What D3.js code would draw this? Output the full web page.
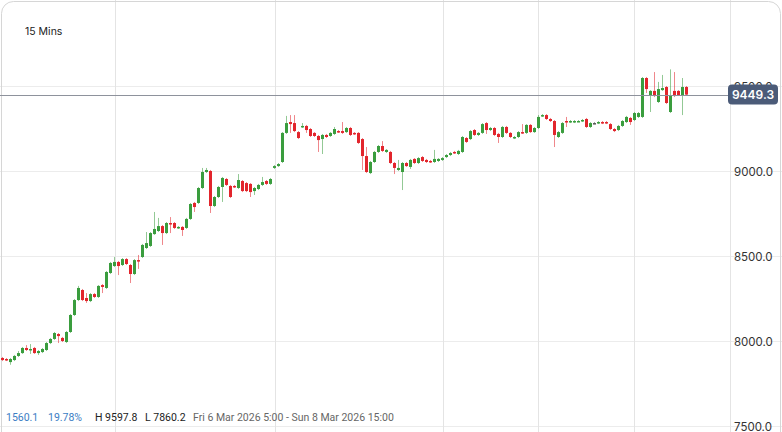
<!DOCTYPE html>
<html>
<head>
<meta charset="utf-8">
<script src="https://cdn.jsdelivr.net/npm/d3@7"></script>
<style>
  html, body { margin: 0; padding: 0; background: #fff; }
  body { width: 782px; height: 432px; overflow: hidden; font-family: Inter, "Noto Sans", sans-serif; }
</style>
</head>
<body>
<div id="chart"></div>
<script>
// 15 min candles, Fri 6 Mar 2026 5:00 onwards
const opens = [
  7900, 7894, 7876, 7888, 7912, 7929, 7959, 7947, 7959, 7929, 7935, 7947, 7988, 8012, 8041, 8018,
  7994, 8053, 8153, 8241, 8300, 8253, 8235, 8276, 8259, 8329, 8312, 8400, 8441, 8465, 8447, 8482,
  8447, 8394, 8476, 8494, 8547, 8559, 8629, 8647, 8676, 8635, 8694, 8694, 8665, 8671, 8665, 8718,
  8812, 8812, 8900, 8994, 9000, 8794, 8847, 8906, 8953, 8912, 8912, 8900, 8941, 8929, 8924, 8882,
  8894, 8918, 8941, 8924, 9018, 9029, 9053, 9224, 9288, 9282, 9229, 9259, 9265, 9247, 9224, 9206,
  9188, 9212, 9206, 9218, 9235, 9235, 9229, 9253, 9224, 9224, 9188, 9088, 8988, 9053, 9112, 9147,
  9112, 9112, 9047, 9006, 8994, 9047, 9024, 9071, 9047, 9082, 9065, 9059, 9053, 9059, 9065, 9082,
  9094, 9112, 9100, 9112, 9194, 9188, 9241, 9212, 9224, 9282, 9241, 9253, 9218, 9200, 9259, 9224,
  9194, 9200, 9229, 9224, 9271, 9229, 9253, 9324, 9329, 9306, 9294, 9200, 9224, 9294, 9288, 9288,
  9288, 9294, 9306, 9259, 9282, 9282, 9288, 9288, 9276, 9247, 9241, 9265, 9288, 9312, 9300, 9318,
  9318, 9547, 9447, 9471, 9406, 9476, 9494, 9347, 9471, 9471, 9447, 9494
];
const highs = [
  7906, 7900, 7900, 7918, 7941, 7965, 7976, 7982, 7965, 7947, 7959, 7994, 8018, 8053, 8047, 8024,
  8059, 8159, 8247, 8324, 8306, 8282, 8282, 8282, 8329, 8335, 8412, 8465, 8494, 8471, 8488, 8488,
  8453, 8482, 8506, 8571, 8641, 8641, 8759, 8724, 8682, 8700, 8729, 8700, 8676, 8676, 8724, 8812,
  8818, 8906, 9018, 9018, 9006, 8853, 8912, 8965, 8959, 8918, 8918, 8982, 8947, 8935, 8929, 8906,
  8924, 8965, 8947, 8959, 9035, 9047, 9229, 9324, 9329, 9329, 9235, 9282, 9271, 9253, 9229, 9212,
  9218, 9218, 9229, 9259, 9241, 9288, 9259, 9259, 9229, 9229, 9194, 9141, 9059, 9118, 9153, 9176,
  9129, 9118, 9053, 9065, 9053, 9053, 9071, 9076, 9082, 9088, 9071, 9065, 9124, 9076, 9082, 9100,
  9112, 9118, 9124, 9206, 9200, 9241, 9247, 9229, 9282, 9288, 9259, 9259, 9224, 9265, 9265, 9229,
  9206, 9235, 9276, 9276, 9276, 9259, 9329, 9335, 9335, 9312, 9300, 9235, 9288, 9318, 9300, 9300,
  9300, 9306, 9312, 9288, 9288, 9294, 9294, 9294, 9282, 9253, 9271, 9300, 9324, 9318, 9347, 9347,
  9553, 9553, 9476, 9582, 9524, 9565, 9500, 9597.8, 9582, 9476, 9547, 9500
];
const lows = [
  7882, 7882, 7860.2, 7882, 7906, 7924, 7941, 7924, 7924, 7918, 7929, 7941, 7982, 8006, 7988, 7994,
  7988, 8047, 8147, 8235, 8235, 8224, 8229, 8253, 8253, 8282, 8306, 8394, 8435, 8388, 8441, 8447,
  8341, 8388, 8424, 8488, 8541, 8553, 8624, 8641, 8565, 8629, 8635, 8659, 8659, 8618, 8659, 8712,
  8759, 8806, 8894, 8988, 8753, 8788, 8841, 8818, 8912, 8841, 8900, 8894, 8876, 8876, 8847, 8859,
  8888, 8912, 8918, 8918, 9012, 9024, 9047, 9218, 9224, 9229, 9188, 9253, 9224, 9200, 9200, 9112,
  9100, 9194, 9200, 9212, 9224, 9218, 9224, 9206, 9212, 9159, 9006, 8988, 8982, 9047, 9106, 9112,
  9106, 9041, 8982, 9000, 8888, 9024, 9012, 9041, 9041, 9053, 9047, 9047, 9047, 9053, 9059, 9076,
  9088, 9100, 9094, 9106, 9165, 9182, 9206, 9206, 9218, 9218, 9235, 9206, 9165, 9194, 9218, 9194,
  9188, 9194, 9218, 9218, 9224, 9224, 9247, 9318, 9300, 9288, 9141, 9194, 9218, 9259, 9282, 9282,
  9288, 9288, 9253, 9253, 9276, 9276, 9276, 9276, 9241, 9229, 9235, 9259, 9282, 9271, 9294, 9312,
  9312, 9459, 9347, 9435, 9400, 9471, 9394, 9341, 9435, 9441, 9329, 9441
];
const closes = [
  7888, 7888, 7894, 7912, 7929, 7959, 7947, 7953, 7929, 7941, 7953, 7988, 8012, 8047, 8029, 8000,
  8053, 8153, 8241, 8312, 8241, 8235, 8276, 8259, 8324, 8318, 8406, 8459, 8465, 8441, 8482, 8453,
  8394, 8476, 8471, 8565, 8576, 8635, 8659, 8676, 8635, 8694, 8688, 8665, 8671, 8653, 8718, 8806,
  8788, 8900, 8994, 9006, 8794, 8847, 8906, 8959, 8918, 8847, 8906, 8947, 8882, 8882, 8876, 8900,
  8918, 8935, 8924, 8953, 9029, 9041, 9224, 9282, 9276, 9235, 9194, 9265, 9241, 9206, 9206, 9182,
  9212, 9200, 9224, 9247, 9229, 9224, 9253, 9212, 9218, 9165, 9088, 8994, 9053, 9112, 9147, 9118,
  9124, 9047, 9018, 9018, 9047, 9029, 9065, 9047, 9076, 9059, 9053, 9053, 9071, 9071, 9076, 9094,
  9106, 9106, 9118, 9200, 9171, 9235, 9212, 9224, 9276, 9241, 9253, 9212, 9200, 9259, 9224, 9200,
  9200, 9229, 9224, 9271, 9229, 9253, 9318, 9329, 9306, 9294, 9212, 9229, 9282, 9288, 9294, 9294,
  9294, 9300, 9259, 9282, 9282, 9288, 9282, 9282, 9247, 9235, 9265, 9294, 9318, 9288, 9341, 9341,
  9547, 9482, 9471, 9441, 9482, 9488, 9400, 9447, 9441, 9447, 9494, 9449.3
];

const priceTicks = [7500, 8000, 8500, 9000, 9500];
// vertical grid positions, in candle index units
const timeGrid = [28.25, 68.25, 110.25, 134, 158];
const lastPrice = 9449.3;
const interval = "15 Mins";
const stats = [
  { text: "1560.1", color: "#3b7dc4", x: 6 },
  { text: "19.78%", color: "#3b7dc4", x: 48 },
  { text: "H 9597.8", color: "#222", x: 95 },
  { text: "L 7860.2", color: "#222", x: 145 },
  { text: "Fri 6 Mar 2026 5:00 - Sun 8 Mar 2026 15:00", color: "#666", x: 193 }
];

const width = 782, height = 432;
const plotRight = 730;

const candles = opens.map((o, i) => ({ i, o, h: highs[i], l: lows[i], c: closes[i] }));

const svg = d3.select("#chart").append("svg")
  .attr("width", width)
  .attr("height", height);

const x = d3.scaleLinear()
  .domain([0, candles.length - 1])
  .range([2, 686]);

const y = d3.scaleLinear()
  .domain([7500, 9500])
  .range([426, 86]);

// grid
svg.append("g").selectAll("line")
  .data(priceTicks)
  .join("line")
  .attr("x1", 0).attr("x2", width)
  .attr("y1", d => Math.round(y(d)) + 0.5)
  .attr("y2", d => Math.round(y(d)) + 0.5)
  .attr("stroke", "#ececec");

svg.append("g").selectAll("line")
  .data(timeGrid)
  .join("line")
  .attr("x1", d => Math.round(x(d)) + 0.5)
  .attr("x2", d => Math.round(x(d)) + 0.5)
  .attr("y1", 0).attr("y2", height)
  .attr("stroke", "#e4e4e4");

svg.append("line")
  .attr("x1", plotRight + 0.5).attr("x2", plotRight + 0.5)
  .attr("y1", 0).attr("y2", height)
  .attr("stroke", "#e4e4e4");

// card border
svg.append("rect")
  .attr("x", 1.5).attr("y", 1.5)
  .attr("width", width - 3).attr("height", height + 20)
  .attr("rx", 12)
  .attr("fill", "none")
  .attr("stroke", "#d6d6d6");

// y axis labels
svg.append("g").selectAll("text")
  .data(priceTicks)
  .join("text")
  .attr("x", 734)
  .attr("y", d => y(d) + 5)
  .attr("font-size", 11.5)
  .attr("fill", "#333")
  .text(d => d3.format(".1f")(d));

const colorOf = d => d.c > d.o ? "#3a9d3e" : d.c < d.o ? "#e2252c" : "#555";

const g = svg.append("g");

g.selectAll(".wick")
  .data(candles)
  .join("line")
  .attr("class", "wick")
  .attr("x1", d => Math.round(x(d.i)) + 0.5)
  .attr("x2", d => Math.round(x(d.i)) + 0.5)
  .attr("y1", d => y(d.h))
  .attr("y2", d => y(d.l))
  .attr("stroke", colorOf)
  .attr("stroke-opacity", 0.55)
  .attr("stroke-width", 1);

g.selectAll(".body")
  .data(candles)
  .join("rect")
  .attr("class", "body")
  .attr("x", d => Math.round(x(d.i)) - 1)
  .attr("y", d => y(Math.max(d.o, d.c)))
  .attr("width", 3)
  .attr("height", d => Math.max(1.5, Math.abs(y(d.o) - y(d.c))))
  .attr("fill", colorOf);

// last price line + tag
svg.append("line")
  .attr("x1", 0).attr("x2", 728)
  .attr("y1", Math.round(y(lastPrice)) + 0.5)
  .attr("y2", Math.round(y(lastPrice)) + 0.5)
  .attr("stroke", "#8e929c");

svg.append("rect")
  .attr("x", 728).attr("y", y(lastPrice) - 10)
  .attr("width", 50).attr("height", 20)
  .attr("rx", 4)
  .attr("fill", "#4b5b78");

svg.append("text")
  .attr("x", 753).attr("y", y(lastPrice) + 4.5)
  .attr("text-anchor", "middle")
  .attr("font-size", 12)
  .attr("font-weight", 600)
  .attr("fill", "#fff")
  .text(d3.format(".1f")(lastPrice));

svg.append("text")
  .attr("x", 25).attr("y", 35)
  .attr("font-size", 10.5)
  .attr("fill", "#222")
  .text(interval);

svg.append("g").selectAll("text")
  .data(stats)
  .join("text")
  .attr("x", d => d.x)
  .attr("y", 420.5)
  .attr("font-family", "Roboto, sans-serif")
  .attr("font-size", 10.5)
  .attr("fill", d => d.color)
  .text(d => d.text);
</script>
</body>
</html>
